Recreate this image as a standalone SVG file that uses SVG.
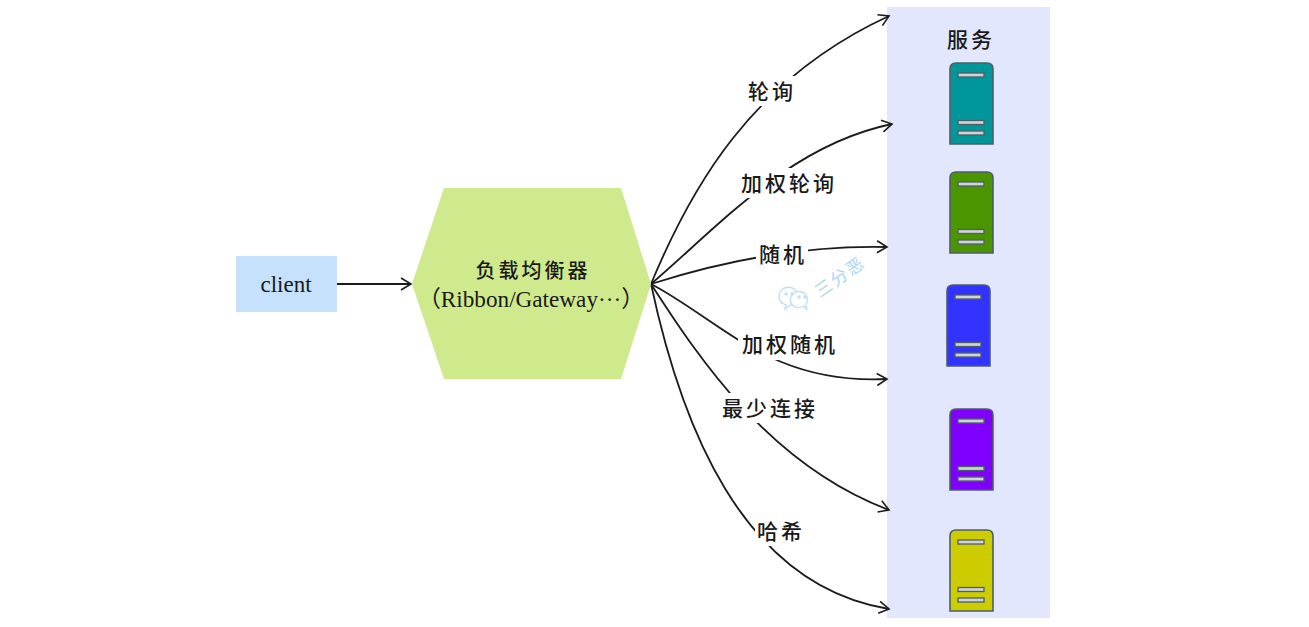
<svg xmlns="http://www.w3.org/2000/svg" width="1309" height="627" viewBox="0 0 1309 627">
<defs>
<marker id="arr" markerUnits="userSpaceOnUse" markerWidth="14" markerHeight="14" refX="11" refY="7" orient="auto"><path d="M1 1 L11 7 L1 13" fill="none" stroke="#1c1c1c" stroke-width="1.6"/></marker>
<g id="srv"><path d="M0 81 V6 Q0 0 6 0 H37 Q43 0 43 6 V81 Z" stroke="#4d5f66" stroke-width="1.6"/>
<rect x="8" y="10" width="26" height="4" class="slot"/><rect x="8" y="57.5" width="26" height="4" class="slot"/><rect x="8" y="68" width="26" height="4" class="slot"/></g>
</defs>
<style>
text{font-family:"Liberation Serif","Noto Sans CJK SC",serif;fill:#1a1a1a}
.cjk{font-family:"Noto Sans CJK SC",sans-serif;font-size:21px;font-weight:500;letter-spacing:3px;text-anchor:middle}
.c{fill:none;stroke:#1c1c1c;stroke-width:1.8;marker-end:url(#arr)}
.slot{fill:#cfd3d6;stroke:#4d5f66;stroke-width:1.3}
.mask{fill:#fff}
</style>
<rect id="services-bg" x="887" y="7" width="163" height="611" fill="#e2e7fd"/>
<g id="connectors">
<path class="c" d="M337 284 H411"/>
<path class="c" d="M651 284 C690 190 750 80 889 16"/>
<path class="c" d="M651 284 C720 225 790 145 892 124"/>
<path class="c" d="M651 284 C720 262 800 245 887 247"/>
<path class="c" d="M651 284 C720 320 770 385 887 379"/>
<path class="c" d="M651 284 C700 360 770 465 889 510"/>
<path class="c" d="M651 284 C680 420 740 585 889 609"/>
</g>
<g id="client"><rect x="236" y="256" width="101" height="56" fill="#c5e1fb"/><text x="286" y="292" font-size="23" text-anchor="middle">client</text></g>
<g id="balancer"><polygon points="412,284 444,188 621,188 651,284 621,379 444,379" fill="#cfea8c"/>
<text class="cjk" x="533" y="278" style="font-size:20px;letter-spacing:3px">负载均衡器</text>
<text x="531" y="307" font-size="23.2" text-anchor="middle">（Ribbon/Gateway···）</text></g>
<g id="label-1"><rect class="mask" x="745" y="76" width="52" height="30"/><text class="cjk" x="772" y="99">轮询</text></g>
<g id="label-2"><rect class="mask" x="738" y="168" width="100" height="30"/><text class="cjk" x="789" y="191">加权轮询</text></g>
<g id="label-3"><rect class="mask" x="756" y="240" width="52" height="30"/><text class="cjk" x="783" y="262">随机</text></g>
<g id="label-4"><rect class="mask" x="738" y="330" width="100" height="30"/><text class="cjk" x="790" y="352">加权随机</text></g>
<g id="label-5"><rect class="mask" x="720" y="393" width="100" height="30"/><text class="cjk" x="770" y="416">最少连接</text></g>
<g id="label-6"><rect class="mask" x="755" y="516" width="52" height="30"/><text class="cjk" x="781" y="539">哈希</text></g>
<g id="watermark" fill="#fff" stroke="#bfe0f5" stroke-width="1.4"><path d="M786 305 L785 309 L791 305 A9.5 9 0 1 0 786 305 Z"/><path d="M804 306 L807 310 L806 304 A8.5 8 0 1 0 804 306 Z"/>
<circle cx="786" cy="294" r="1" fill="#bfe0f5"/><circle cx="792" cy="294" r="1" fill="#bfe0f5"/><circle cx="799" cy="297" r="1" fill="#bfe0f5"/><circle cx="805" cy="297" r="1" fill="#bfe0f5"/>
<text x="820" y="298" transform="rotate(-35 820 298)" style="font-family:'Noto Sans CJK SC',sans-serif;font-size:17px;fill:#a9d6f5;stroke:none;letter-spacing:2px">三分恶</text></g>
<text id="services-title" class="cjk" x="971" y="47">服务</text>
<g id="server-1" transform="translate(950,63)" fill="#00969a"><use href="#srv"/></g>
<g id="server-2" transform="translate(950,172)" fill="#4b9600"><use href="#srv"/></g>
<g id="server-3" transform="translate(947,285)" fill="#3333ff"><use href="#srv"/></g>
<g id="server-4" transform="translate(950,409)" fill="#7f00ff"><use href="#srv"/></g>
<g id="server-5" transform="translate(950,530)" fill="#cccc00"><use href="#srv"/></g>
</svg>
